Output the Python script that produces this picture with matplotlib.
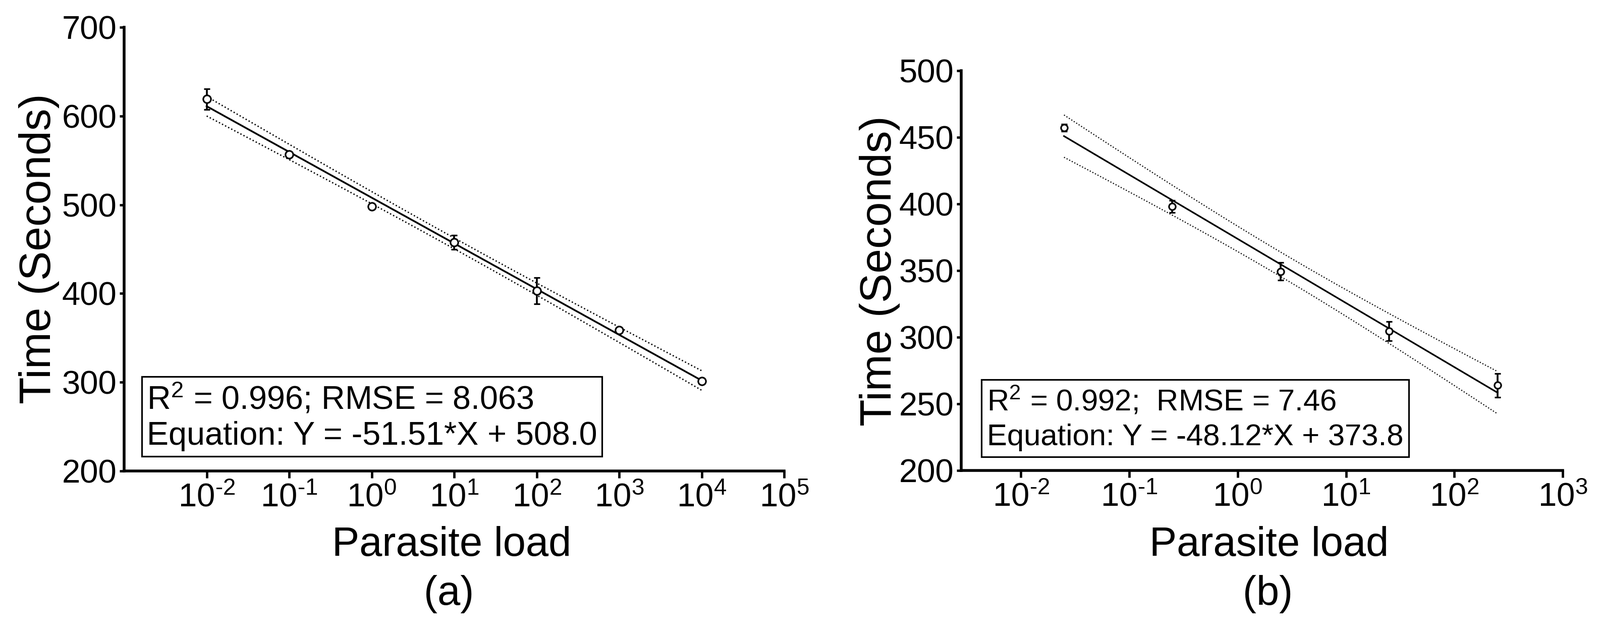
import numpy as np
import matplotlib
matplotlib.use('Agg')
import matplotlib.pyplot as plt
from matplotlib.ticker import FixedLocator, NullLocator

plt.rcParams['font.family'] = ['Liberation Sans', 'DejaVu Sans']
plt.rcParams['mathtext.fontset'] = 'custom'
plt.rcParams['mathtext.rm'] = 'Liberation Sans'
plt.rcParams['mathtext.it'] = 'Liberation Sans:italic'
plt.rcParams['mathtext.bf'] = 'Liberation Sans:bold'

# panel (a) data
load_a = [1e-2, 1e-1, 1e0, 1e1, 1e2, 1e3, 1e4]
time_a = [619.0, 556.6, 498.3, 457.6, 403.1, 358.6, 301.4]
err_a = [11.7, 2.5, 1.5, 7.8, 14.7, 2.5, 1.5]
slope_a, intercept_a = -51.51, 508.0
text_a = 'R$^2$ = 0.996; RMSE = 8.063\nEquation: Y = -51.51*X + 508.0'
xticks_a = [1e-2, 1e-1, 1e0, 1e1, 1e2, 1e3, 1e4, 1e5]
xticklabels_a = [r'$10^{\text{-}2}$', r'$10^{\text{-}1}$', '$10^{0}$', '$10^{1}$',
                 '$10^{2}$', '$10^{3}$', '$10^{4}$', '$10^{5}$']
yticks_a = [200, 300, 400, 500, 600, 700]

# panel (b) data
load_b = [0.025, 0.25, 2.5, 25, 250]
time_b = [457.3, 398.1, 349.4, 304.6, 263.9]
err_b = [2.6, 4.5, 6.5, 7.3, 9.0]
slope_b, intercept_b = -48.12, 373.8
text_b = 'R$^2$ = 0.992;  RMSE = 7.46\nEquation: Y = -48.12*X + 373.8'
xticks_b = [1e-2, 1e-1, 1e0, 1e1, 1e2, 1e3]
xticklabels_b = [r'$10^{\text{-}2}$', r'$10^{\text{-}1}$', '$10^{0}$', '$10^{1}$',
                 '$10^{2}$', '$10^{3}$']
yticks_b = [200, 250, 300, 350, 400, 450, 500]

# two-sided 95% t values for n-2 degrees of freedom (7 and 5 points)
T95 = {5: 2.571, 3: 3.182}


def draw_panel(ax, load, time, err, slope, intercept, xlim, ylim,
               xticks, xticklabels, yticks, ms, lw_fit, lw_band):
    lx = np.log10(load)
    y = np.array(time)
    n = len(lx)
    # regression line and 95% confidence band
    xs = np.linspace(lx.min(), lx.max(), 100)
    fit = slope * xs + intercept
    resid = y - (slope * lx + intercept)
    s = np.sqrt(np.sum(resid ** 2) / (n - 2))
    sxx = np.sum((lx - lx.mean()) ** 2)
    half = T95[n - 2] * s * np.sqrt(1.0 / n + (xs - lx.mean()) ** 2 / sxx)
    ax.plot(10 ** xs, fit, color='black', lw=lw_fit, zorder=2)
    ax.plot(10 ** xs, fit + half, color='black', lw=lw_band, ls=(0, (1, 1.6)), zorder=2)
    ax.plot(10 ** xs, fit - half, color='black', lw=lw_band, ls=(0, (1, 1.6)), zorder=2)
    ax.errorbar(load, time, yerr=err, fmt='o', mfc='white', mec='black',
                mew=2.3, ms=ms, ecolor='black', elinewidth=2.6, capsize=4.5,
                capthick=3.4, zorder=3)

    ax.set_xscale('log')
    ax.set_xlim(*xlim)
    ax.set_ylim(*ylim)
    ax.xaxis.set_major_locator(FixedLocator(xticks))
    ax.xaxis.set_minor_locator(NullLocator())
    ax.set_xticklabels(xticklabels)
    ax.set_yticks(yticks)
    ax.yaxis.set_minor_locator(NullLocator())
    for side in ['top', 'right']:
        ax.spines[side].set_visible(False)
    for side in ['left', 'bottom']:
        ax.spines[side].set_linewidth(4.0)
    ax.tick_params(axis='x', length=10, width=3.4, pad=7, labelsize=47)
    ax.tick_params(axis='y', length=6.5, width=3.4, pad=4, labelsize=47)


fig = plt.figure(figsize=(31.71, 12.5), dpi=100)
ax_a = fig.add_axes([0.0776, 0.2536, 0.4125, 0.7032])
ax_b = fig.add_axes([0.6008, 0.2544, 0.3759, 0.6336])

draw_panel(ax_a, load_a, time_a, err_a, slope_a, intercept_a,
           (1e-3, 1e5), (200, 700), xticks_a, xticklabels_a, yticks_a,
           ms=11, lw_fit=2.5, lw_band=1.9)
draw_panel(ax_b, load_b, time_b, err_b, slope_b, intercept_b,
           (10 ** -2.55, 1e3), (200, 500), xticks_b, xticklabels_b, yticks_b,
           ms=9.5, lw_fit=2.3, lw_band=1.6)

ax_a.text(0.034, 0.044, text_a, transform=ax_a.transAxes, fontsize=46.5,
          ha='left', va='bottom', linespacing=1.22, zorder=4,
          bbox=dict(boxstyle='square,pad=0.15', fc='white', ec='black', lw=2.3))
ax_b.text(0.0425, 0.048, text_b, transform=ax_b.transAxes, fontsize=43,
          ha='left', va='bottom', linespacing=1.32, zorder=4,
          bbox=dict(boxstyle='square,pad=0.18', fc='white', ec='black', lw=2.3))

fig.text(0.0243, 0.6056, 'Time (Seconds)', rotation=90, fontsize=63,
         ha='center', va='center')
fig.text(0.5497, 0.5704, 'Time (Seconds)', rotation=90, fontsize=63,
         ha='center', va='center')
fig.text(0.2822, 0.136, 'Parasite load', fontsize=58.5, ha='center', va='center')
fig.text(0.7931, 0.136, 'Parasite load', fontsize=58.5, ha='center', va='center')
fig.text(0.2807, 0.0584, '(a)', fontsize=58.5, ha='center', va='center')
fig.text(0.7922, 0.0584, '(b)', fontsize=58.5, ha='center', va='center')

fig.savefig('out.png', dpi=100)
